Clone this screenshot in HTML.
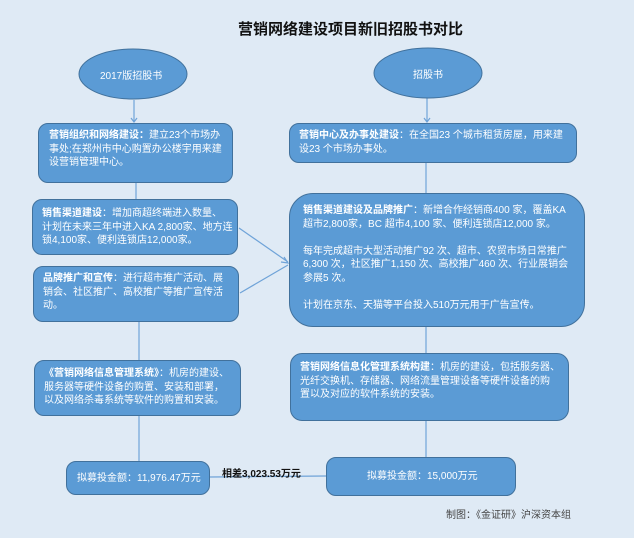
<!DOCTYPE html>
<html><head><meta charset="utf-8"><style>
body{margin:0;width:634px;height:538px;background:#dfeaf5;position:relative;overflow:hidden;font-family:"Liberation Sans","Noto Sans CJK SC",sans-serif;}
.b{position:absolute;background:#5b9bd5;border:1px solid #41719c;border-radius:10px;color:#fff;font-size:10px;line-height:13.5px;box-sizing:border-box;white-space:nowrap;}
.b b{font-weight:bold}
.t{position:absolute;white-space:nowrap}
</style></head><body>
<svg width="634" height="538" style="position:absolute;left:0;top:0">
<g stroke="#6fa3d8" stroke-width="1.2" fill="none">
<line x1="134" y1="100" x2="134" y2="122"/><polyline points="131,118 134,122 137,118"/>
<line x1="427" y1="98" x2="427" y2="122"/><polyline points="424,118 427,122 430,118"/>
<line x1="136" y1="183" x2="136" y2="199"/>
<line x1="426" y1="163" x2="426" y2="193"/>
<line x1="239" y1="228" x2="288" y2="262"/><line x1="240" y1="293" x2="288" y2="265"/>
<polyline points="281,262 288,263 284,257"/>
<line x1="139" y1="322" x2="139" y2="360"/><line x1="139" y1="416" x2="139" y2="461"/>
<line x1="426" y1="327" x2="426" y2="353"/><line x1="426" y1="421" x2="426" y2="457"/>
<line x1="210" y1="477" x2="326" y2="476"/>
</g>
<ellipse cx="133" cy="74" rx="54" ry="25" fill="#5b9bd5" stroke="#41719c"/>
<ellipse cx="428" cy="73" rx="54" ry="25" fill="#5b9bd5" stroke="#41719c"/>
</svg>
<div class="t" style="left:238px;top:18px;font-size:15px;font-weight:bold;color:#111">营销网络建设项目新旧招股书对比</div>
<div class="t" style="left:100px;top:67px;font-size:10px;color:#fff">2017版招股书</div>
<div class="t" style="left:413px;top:66px;font-size:10px;color:#fff">招股书</div>
<div class="b" style="left:38px;top:123px;width:195px;height:60px;padding:5px 0 0 10px"><b>营销组织和网络建设：</b>建立23个市场办<br>事处;在郑州市中心购置办公楼宇用来建<br>设营销管理中心。</div>
<div class="b" style="left:32px;top:199px;width:206px;height:56px;padding:7px 0 0 9px"><b>销售渠道建设</b>：增加商超终端进入数量、<br>计划在未来三年中进入KA 2,800家、地方连<br>锁4,100家、便利连锁店12,000家。</div>
<div class="b" style="left:33px;top:266px;width:206px;height:56px;padding:5px 0 0 9px"><b>品牌推广和宣传</b>：进行超市推广活动、展<br>销会、社区推广、高校推广等推广宣传活<br>动。</div>
<div class="b" style="left:34px;top:360px;width:207px;height:56px;padding:6px 0 0 9px"><b>《营销网络信息管理系统》</b>：机房的建设、<br>服务器等硬件设备的购置、安装和部署，<br>以及网络杀毒系统等软件的购置和安装。</div>
<div class="b" style="left:66px;top:461px;width:144px;height:34px;padding:10px 0 0 10px">拟募投金额：11,976.47万元</div>
<div class="b" style="left:289px;top:123px;width:288px;height:40px;padding:5px 0 0 9px"><b>营销中心及办事处建设</b>：在全国23 个城市租赁房屋，用来建<br>设23 个市场办事处。</div>
<div class="b" style="left:289px;top:193px;width:296px;height:134px;border-radius:24px;padding:10px 0 0 13px"><b>销售渠道建设及品牌推广</b>：新增合作经销商400 家，覆盖KA<br>超市2,800家，BC 超市4,100 家、便利连锁店12,000 家。<br><br>每年完成超市大型活动推广92 次、超市、农贸市场日常推广<br>6,300 次，社区推广1,150 次、高校推广460 次、行业展销会<br>参展5 次。<br><br>计划在京东、天猫等平台投入510万元用于广告宣传。</div>
<div class="b" style="left:290px;top:353px;width:279px;height:68px;border-radius:12px;padding:7px 0 0 9px"><b>营销网络信息化管理系统构建</b>：机房的建设，包括服务器、<br>光纤交换机、存储器、网络流量管理设备等硬件设备的购<br>置以及对应的软件系统的安装。</div>
<div class="b" style="left:326px;top:457px;width:190px;height:39px;padding:12px 0 0 40px">拟募投金额：15,000万元</div>
<div class="t" style="left:222px;top:465px;font-size:10px;font-weight:bold;color:#111">相差3,023.53万元</div>
<div class="t" style="left:446px;top:506px;font-size:10px;color:#444">制图：《金证研》沪深资本组</div>
</body></html>
